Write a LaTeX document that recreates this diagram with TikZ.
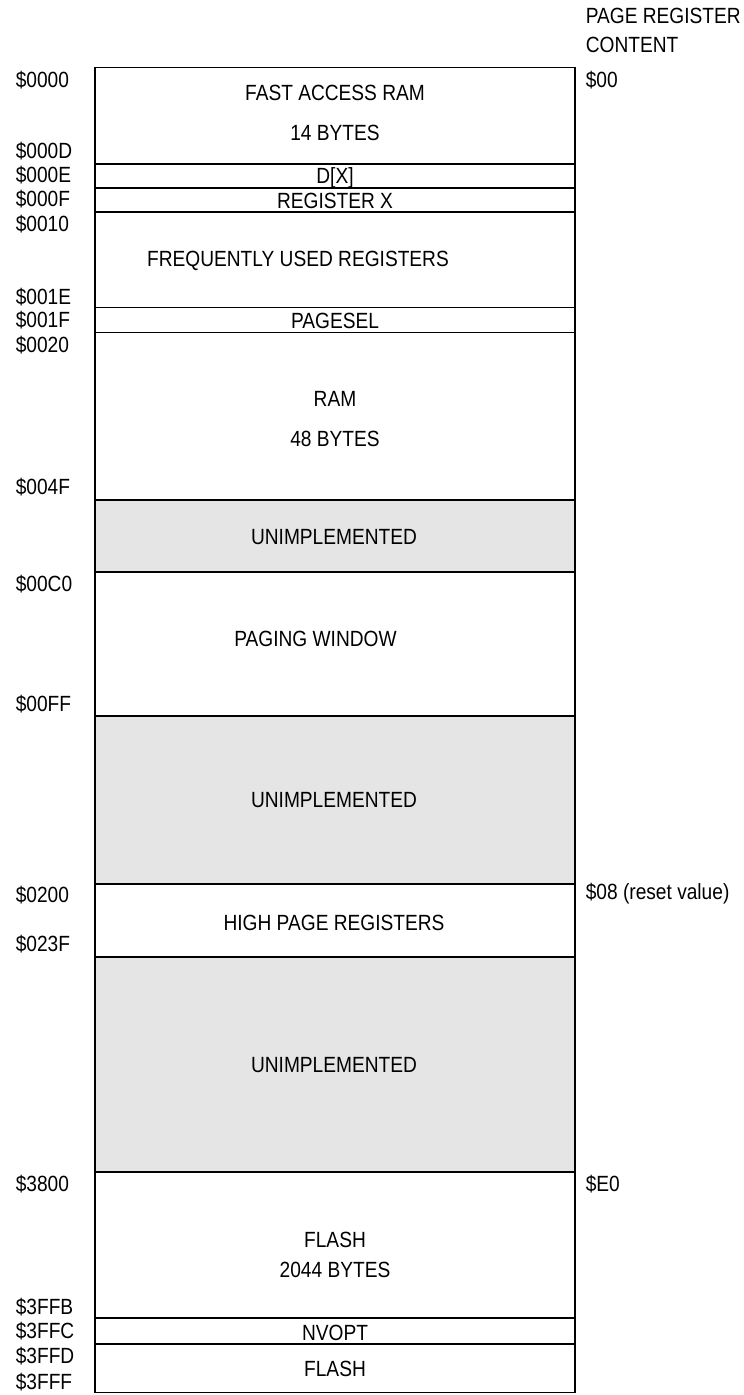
\documentclass[tikz,border=0pt]{standalone}
\usepackage{fontspec}
\setmainfont{Liberation Sans}[FakeStretch=0.87]
\begin{document}
\begin{tikzpicture}[x=0.5pt,y=-0.5pt,line width=0.8pt,
  every node/.style={inner sep=0pt,font=\fontsize{11}{13}\selectfont},
  addr/.style={anchor=base west},
  field/.style={anchor=base},
  unimpl/.style={fill=black!10}]
\useasboundingbox (0,0) rectangle (743,1395);

\draw (95,67.5) rectangle (575,164);
\draw (95,164) rectangle (575,188);
\draw (95,188) rectangle (575,212);
\draw (95,212) rectangle (575,307.5);
\draw (95,307.5) rectangle (575,332.5);
\draw (95,332.5) rectangle (575,500);
\draw[unimpl] (95,500) rectangle (575,572);
\draw (95,572) rectangle (575,716);
\draw[unimpl] (95,716) rectangle (575,884);
\draw (95,884) rectangle (575,957);
\draw[unimpl] (95,957) rectangle (575,1172);
\draw (95,1172) rectangle (575,1318);
\draw (95,1318) rectangle (575,1344);
\draw (95,1344) rectangle (575,1392.5);

\node[field] (fastram) at (335,101) {FAST ACCESS RAM};
\node[field] (fastsize) at (335,141) {14 BYTES};
\node[field] (dx) at (335,183.5) {D[X]};
\node[field] (regx) at (335,208.3) {REGISTER X};
\node[field] (frequent) at (298,266.7) {FREQUENTLY USED REGISTERS};
\node[field] (pagesel) at (335,328.3) {PAGESEL};
\node[field] (ram) at (335,406.7) {RAM};
\node[field] (ramsize) at (335,446) {48 BYTES};
\node[field] (unimpla) at (334,544) {UNIMPLEMENTED};
\node[field] (window) at (315.5,646) {PAGING WINDOW};
\node[field] (unimplb) at (334,807) {UNIMPLEMENTED};
\node[field] (highpage) at (334,930) {HIGH PAGE REGISTERS};
\node[field] (unimplc) at (334,1072) {UNIMPLEMENTED};
\node[field] (flash) at (335,1247.3) {FLASH};
\node[field] (flashsize) at (335,1277.7) {2044 BYTES};
\node[field] (nvopt) at (335,1340.7) {NVOPT};
\node[field] (flashtop) at (335,1376.7) {FLASH};

\node[addr] (a0000) at (15,88) {\$0000};
\node[addr] (a000D) at (15,159) {\$000D};
\node[addr] (a000E) at (15,183) {\$000E};
\node[addr] (a000F) at (15,207) {\$000F};
\node[addr] (a0010) at (15,231.5) {\$0010};
\node[addr] (a001E) at (15,304.7) {\$001E};
\node[addr] (a001F) at (15,328) {\$001F};
\node[addr] (a0020) at (15,353) {\$0020};
\node[addr] (a004F) at (15,494.7) {\$004F};
\node[addr] (a00C0) at (15,591.3) {\$00C0};
\node[addr] (a00FF) at (15,711.3) {\$00FF};
\node[addr] (a0200) at (15,902) {\$0200};
\node[addr] (a023F) at (15,951) {\$023F};
\node[addr] (a3800) at (15,1191.5) {\$3800};
\node[addr] (a3FFB) at (15,1314.7) {\$3FFB};
\node[addr] (a3FFC) at (15,1338) {\$3FFC};
\node[addr] (a3FFD) at (15,1363) {\$3FFD};
\node[addr] (a3FFF) at (15,1389.7) {\$3FFF};

\node[addr] (pghead) at (585,24) {PAGE REGISTER};
\node[addr] (pghead2) at (585,52.5) {CONTENT};
\node[addr] (pg00) at (585,87.5) {\$00};
\node[addr] (pg08) at (585,899) {\$08 (reset value)};
\node[addr] (pgE0) at (585,1191) {\$E0};
\end{tikzpicture}
\end{document}
